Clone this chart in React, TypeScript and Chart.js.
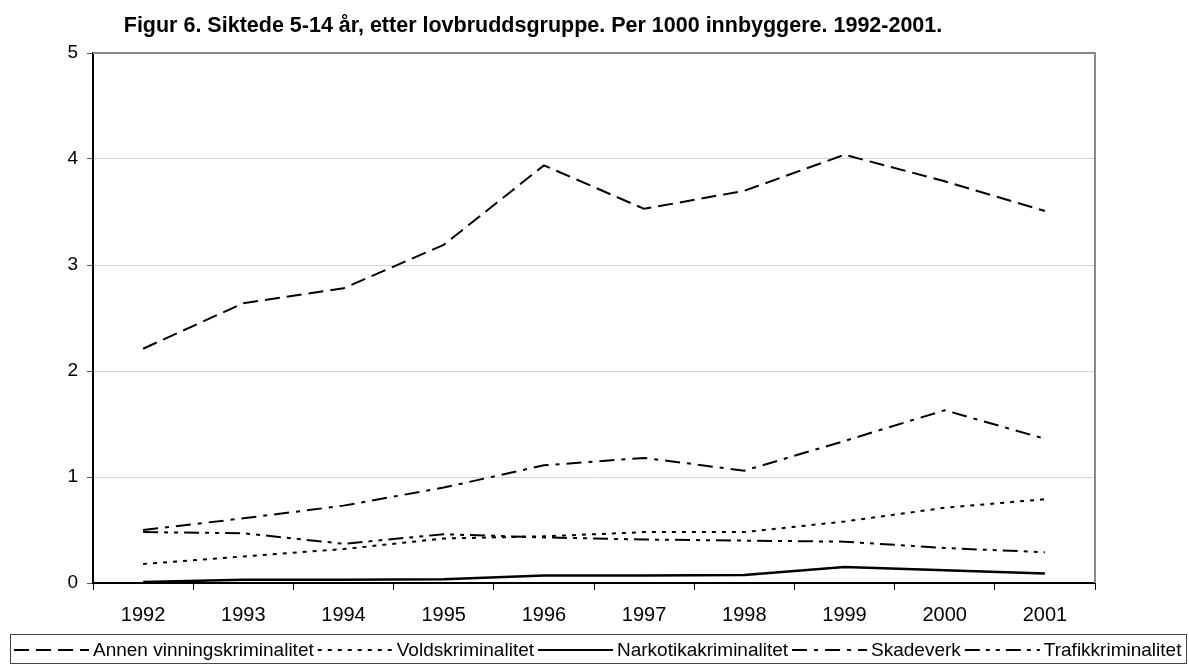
import React, { useEffect, useRef } from 'react';
import { Chart, registerables } from 'chart.js';

Chart.register(...registerables);

const years = ['1992', '1993', '1994', '1995', '1996', '1997', '1998', '1999', '2000', '2001'];
const annen = [2.21, 2.64, 2.78, 3.19, 3.94, 3.53, 3.7, 4.04, 3.79, 3.51];
const vold = [0.18, 0.25, 0.32, 0.42, 0.44, 0.48, 0.48, 0.58, 0.71, 0.79];
const narko = [0.01, 0.03, 0.03, 0.035, 0.07, 0.07, 0.075, 0.15, 0.12, 0.09];
const skade = [0.5, 0.61, 0.73, 0.9, 1.11, 1.18, 1.06, 1.34, 1.63, 1.36];
const trafikk = [0.48, 0.47, 0.37, 0.46, 0.43, 0.41, 0.4, 0.39, 0.33, 0.29];
const yTicks = [0, 1, 2, 3, 4, 5];

const seriesNames = [
  'Annen vinningskriminalitet',
  'Voldskriminalitet',
  'Narkotikakriminalitet',
  'Skadeverk',
  'Trafikkriminalitet',
];
const titleText = 'Figur 6. Siktede 5-14 år, etter lovbruddsgruppe. Per 1000 innbyggere. 1992-2001.';

const FONT = '"Liberation Sans", Arial, sans-serif';

const titlePlugin = {
  id: 'customTitle',
  afterDraw(chart: any) {
    const ctx = chart.ctx;
    ctx.save();
    ctx.font = `bold 21.5px ${FONT}`;
    ctx.fillStyle = '#000';
    ctx.textAlign = 'center';
    ctx.textBaseline = 'alphabetic';
    ctx.fillText(titleText, 533, 32);
    ctx.restore();
  },
};

const framePlugin = {
  id: 'frame',
  afterDatasetsDraw(chart: any) {
    const { ctx, chartArea } = chart;
    ctx.save();
    ctx.strokeStyle = '#888';
    ctx.lineWidth = 2;
    ctx.beginPath();
    ctx.moveTo(chartArea.left, chartArea.top);
    ctx.lineTo(chartArea.right, chartArea.top);
    ctx.lineTo(chartArea.right, chartArea.bottom);
    ctx.stroke();
    ctx.restore();
  },
};

const legendPlugin = {
  id: 'customLegend',
  afterDraw(chart: any) {
    const ctx = chart.ctx;
    ctx.save();
    ctx.strokeStyle = '#444';
    ctx.lineWidth = 1;
    ctx.strokeRect(10.5, 634.5, 1176, 29);
    ctx.font = `19px ${FONT}`;
    ctx.fillStyle = '#000';
    ctx.textBaseline = 'alphabetic';
    ctx.textAlign = 'left';
    let x = 14;
    const y = 650;
    const L = 75;
    chart.data.datasets.forEach((ds: any) => {
      ctx.setLineDash(ds.borderDash || []);
      ctx.lineWidth = 2;
      ctx.strokeStyle = '#000';
      ctx.beginPath();
      ctx.moveTo(x, y);
      ctx.lineTo(x + L, y);
      ctx.stroke();
      x += L + 4;
      ctx.setLineDash([]);
      ctx.fillText(ds.label, x, 656);
      x += ctx.measureText(ds.label).width + 4;
    });
    ctx.restore();
  },
};

export default function App() {
  const ref = useRef<HTMLCanvasElement>(null);
  useEffect(() => {
    const mk = (label: string, data: number[], dash: number[], width = 2) => ({
      label,
      data,
      borderColor: '#000',
      backgroundColor: '#000',
      borderWidth: width,
      borderDash: dash,
      borderCapStyle: 'butt' as const,
      pointRadius: 0,
      tension: 0,
      fill: false,
    });
    const chart = new Chart(ref.current as HTMLCanvasElement, {
      type: 'line',
      data: {
        labels: years,
        datasets: [
          mk(seriesNames[0], annen, [15, 7]),
          mk(seriesNames[1], vold, [4, 6]),
          mk(seriesNames[2], narko, [], 2.5),
          mk(seriesNames[3], skade, [15, 7, 4, 7]),
          mk(seriesNames[4], trafikk, [15, 6, 4, 6, 4, 6]),
        ],
      },
      options: {
        animation: false,
        responsive: true,
        maintainAspectRatio: false,
        layout: { padding: { left: 0, right: 94, top: 53, bottom: 43 } },
        plugins: { legend: { display: false }, tooltip: { enabled: false }, title: { display: false } },
        scales: {
          x: {
            offset: true,
            grid: { drawOnChartArea: false, tickLength: 7, tickColor: '#000', offset: true, lineWidth: 1 },
            border: { color: '#000', width: 2 },
            ticks: { color: '#000', font: { family: FONT, size: 20 }, padding: 13, maxRotation: 0, autoSkip: false },
            afterFit: (s: any) => { s.height = 40; },
          },
          y: {
            min: 0,
            max: 5,
            afterBuildTicks: (s: any) => { s.ticks = yTicks.map((v) => ({ value: v })); },
            ticks: { color: '#000', font: { family: FONT, size: 19 }, padding: 9 },
            grid: { color: '#d4d4d4', tickColor: '#555', tickLength: 6, lineWidth: 1 },
            border: { color: '#000', width: 2 },
            afterFit: (s: any) => { s.width = 93; },
          },
        },
      },
      plugins: [framePlugin, legendPlugin, titlePlugin],
    });
    return () => chart.destroy();
  }, []);
  return (
    <div style={{ position: 'fixed', left: 0, top: 0, width: 1189, height: 666, background: '#fff' }}>
      <canvas ref={ref} />
    </div>
  );
}
